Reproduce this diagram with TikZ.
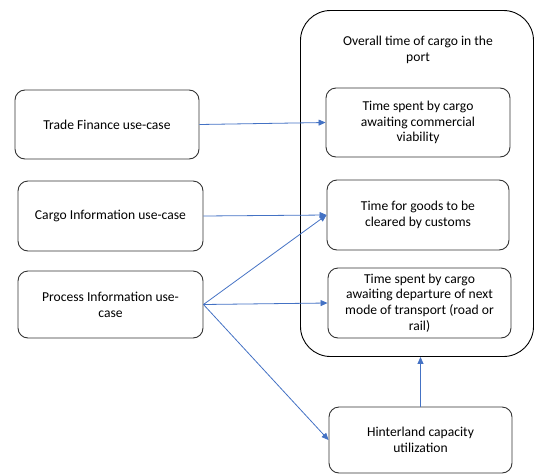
\documentclass[tikz,border=0pt]{standalone}
\usepackage{fontspec}
\setmainfont{Carlito}
\usetikzlibrary{arrows.meta}
\begin{document}
\begin{tikzpicture}[x=1pt,y=-1pt,
  txt/.style={font=\fontsize{13.6}{15.8}\selectfont},
  box/.style={draw=black!80,line width=0.9pt,rounded corners=10pt,align=center,
    inner sep=0pt,txt},
  link/.style={color={rgb,255:red,68;green,114;blue,196},line width=0.8pt,
    -{Triangle[length=7pt,width=6pt]}}]
\useasboundingbox (0,0) rectangle (535,474);
% container for the port timing measures
\node[draw=black,line width=0.9pt,rounded corners=30pt,minimum width=233pt,minimum height=346pt,inner sep=0pt]
  (outer) at (417,183.5) {};
\node[align=center,txt] (title) at (418,49.5) {Overall time of cargo in the\\port};
% measures inside the port
\node[box,minimum width=184pt,minimum height=69pt] (A) at (418,122.5) {Time spent by cargo\\awaiting commercial\\viability};
\node[box,minimum width=182pt,minimum height=70pt] (B) at (418,215) {Time for goods to be\\cleared by customs};
\node[box,minimum width=183pt,minimum height=70pt] (C) at (419.5,303) {Time spent by cargo\\awaiting departure of next\\mode of transport (road or\\rail)};
\node[box,minimum width=183pt,minimum height=66pt] (D) at (420.5,440) {Hinterland capacity\\utilization};
% use-cases
\node[box,minimum width=184pt,minimum height=69pt] (TF) at (107,124.5) {Trade Finance use-case};
\node[box,minimum width=185pt,minimum height=70pt] (CI) at (110.5,216) {Cargo Information use-case};
\node[box,minimum width=185pt,minimum height=67pt] (PI) at (110.5,304.5) {Process Information use-\\case};
% links
\draw[link] (TF.east) -- (A.west);
\draw[link] (CI.east) -- (B.west);
\draw[link] (PI.east) -- (B.west);
\draw[link] (PI.east) -- (C.west);
\draw[link] (PI.east) -- (D.west);
\draw[link] (D.north) -- (D.north |- outer.south);
\end{tikzpicture}
\end{document}
